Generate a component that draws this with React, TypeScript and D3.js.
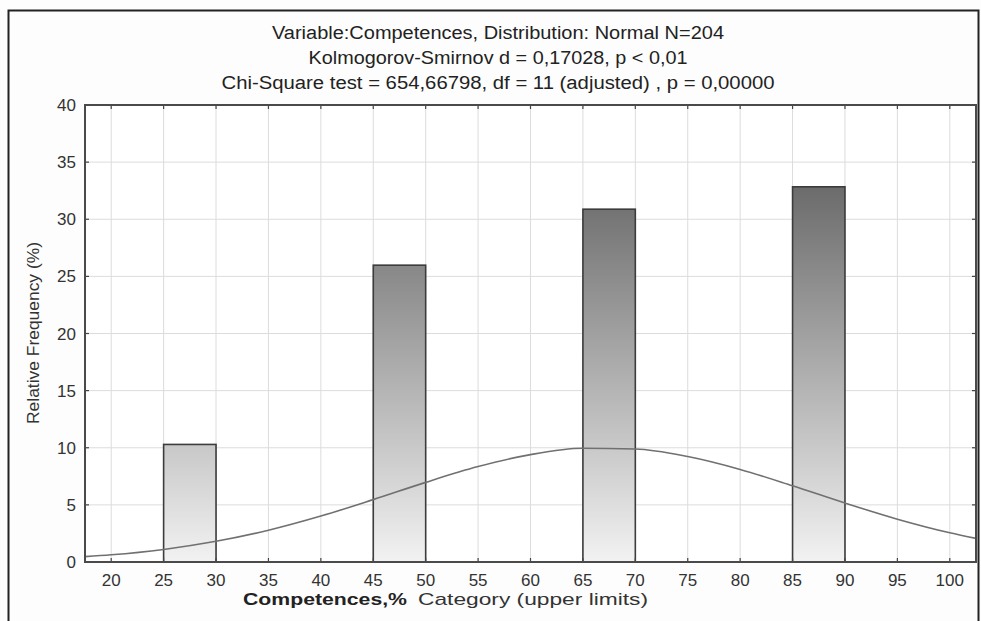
import { useEffect, useRef } from 'react';
import * as d3 from 'd3';

// histogram bins (upper limits) and relative frequencies, N = 204
const binStarts = [25, 45, 65, 85];
const binEnds = [30, 50, 70, 90];
const relFreq = [10.29, 25.98, 30.88, 32.84];

// fitted normal curve
const curveX = [17.5, 20, 25, 30, 35, 40, 45, 50, 55, 60, 65, 70, 75, 80, 85, 90, 95, 100, 102.5];
const curveY = [0.47, 0.63, 1.1, 1.81, 2.78, 4.02, 5.46, 6.97, 8.35, 9.4, 9.95, 9.89, 9.23, 8.1, 6.67, 5.16, 3.75, 2.56, 2.07];

const xTicks = [20, 25, 30, 35, 40, 45, 50, 55, 60, 65, 70, 75, 80, 85, 90, 95, 100];
const yTicks = [0, 5, 10, 15, 20, 25, 30, 35, 40];

const titleLines = [
  'Variable:Competences, Distribution: Normal N=204',
  'Kolmogorov-Smirnov d = 0,17028, p < 0,01',
  'Chi-Square test = 654,66798, df = 11 (adjusted) , p = 0,00000',
];
// width of each title line in the reference
const titleLen = [452, 379, 553];

const W = 981;
const H = 621;
const M = { left: 85, right: 976, top: 105, bottom: 562 };

export default function App() {
  const svgRef = useRef<SVGSVGElement>(null);

  useEffect(() => {
    const svg = d3.select(svgRef.current);
    svg.selectAll('*').remove();

    const x = d3.scaleLinear().domain([17.5, 102.5]).range([M.left, M.right]);
    const y = d3.scaleLinear().domain([0, 40]).range([M.bottom, M.top]);

    const defs = svg.append('defs');
    const grad = defs.append('linearGradient')
      .attr('id', 'barGrad')
      .attr('gradientUnits', 'userSpaceOnUse')
      .attr('x1', 0).attr('x2', 0)
      .attr('y1', y(40)).attr('y2', y(0));
    grad.append('stop').attr('offset', '0%').attr('stop-color', '#4e4e4e');
    grad.append('stop').attr('offset', '100%').attr('stop-color', '#f2f2f2');

    svg.append('rect')
      .attr('x', 0).attr('y', 0).attr('width', W).attr('height', H)
      .attr('fill', '#fdfdfd');

    // outer frame
    svg.append('rect')
      .attr('x', 8.5).attr('y', 10.5).attr('width', 970).attr('height', 640)
      .attr('fill', 'none')
      .attr('stroke', '#222')
      .attr('stroke-width', 2);

    svg.append('rect')
      .attr('x', M.left).attr('y', M.top)
      .attr('width', M.right - M.left).attr('height', M.bottom - M.top)
      .attr('fill', '#ffffff');

    // grid
    const grid = svg.append('g').attr('stroke', '#dcdcdc').attr('stroke-width', 1);
    xTicks.forEach(t => {
      grid.append('line')
        .attr('x1', x(t)).attr('x2', x(t))
        .attr('y1', M.top).attr('y2', M.bottom);
    });
    yTicks.forEach(t => {
      grid.append('line')
        .attr('x1', M.left).attr('x2', M.right)
        .attr('y1', y(t)).attr('y2', y(t));
    });

    // bars
    svg.append('g')
      .selectAll('rect')
      .data(relFreq)
      .join('rect')
      .attr('x', (d, i) => x(binStarts[i]))
      .attr('width', (d, i) => x(binEnds[i]) - x(binStarts[i]))
      .attr('y', d => y(d))
      .attr('height', d => y(0) - y(d))
      .attr('fill', 'url(#barGrad)')
      .attr('stroke', '#3c3c3c')
      .attr('stroke-width', 1.6);

    // normal curve
    const line = d3.line<number>()
      .x((d, i) => x(curveX[i]))
      .y(d => y(d))
      .curve(d3.curveMonotoneX);
    svg.append('path')
      .datum(curveY)
      .attr('d', line)
      .attr('fill', 'none')
      .attr('stroke', '#707070')
      .attr('stroke-width', 1.6);

    // tick marks (inside, all four sides)
    const ticks = svg.append('g').attr('stroke', '#444').attr('stroke-width', 1.2);
    xTicks.forEach(t => {
      ticks.append('line').attr('x1', x(t)).attr('x2', x(t)).attr('y1', M.bottom).attr('y2', M.bottom - 4);
      ticks.append('line').attr('x1', x(t)).attr('x2', x(t)).attr('y1', M.top).attr('y2', M.top + 4);
    });
    yTicks.forEach(t => {
      ticks.append('line').attr('x1', M.left).attr('x2', M.left + 4).attr('y1', y(t)).attr('y2', y(t));
      ticks.append('line').attr('x1', M.right).attr('x2', M.right - 4).attr('y1', y(t)).attr('y2', y(t));
    });

    svg.append('rect')
      .attr('x', M.left).attr('y', M.top)
      .attr('width', M.right - M.left).attr('height', M.bottom - M.top)
      .attr('fill', 'none')
      .attr('stroke', '#4a4a4a')
      .attr('stroke-width', 2);

    const font = '"Liberation Sans", Arial, sans-serif';

    // tick labels
    svg.append('g')
      .selectAll('text')
      .data(xTicks)
      .join('text')
      .attr('x', d => x(d))
      .attr('y', 586)
      .attr('text-anchor', 'middle')
      .attr('fill', '#333')
      .style('font-family', font)
      .style('font-size', '17px')
      .text(d => d);

    svg.append('g')
      .selectAll('text')
      .data(yTicks)
      .join('text')
      .attr('x', 76)
      .attr('y', d => y(d) + 6)
      .attr('text-anchor', 'end')
      .attr('fill', '#333')
      .style('font-family', font)
      .style('font-size', '17px')
      .text(d => d);

    // titles
    titleLines.forEach((t, i) => {
      svg.append('text')
        .attr('x', 498 - titleLen[i] / 2)
        .attr('y', 39 + i * 25)
        .attr('textLength', titleLen[i])
        .attr('lengthAdjust', 'spacingAndGlyphs')
        .attr('fill', '#222')
        .style('font-family', font)
        .style('font-size', '18px')
        .text(t);
    });

    // axis titles
    svg.append('text')
      .attr('transform', `translate(39,333) rotate(-90)`)
      .attr('text-anchor', 'middle')
      .attr('textLength', 182)
      .attr('lengthAdjust', 'spacingAndGlyphs')
      .attr('fill', '#333')
      .style('font-family', font)
      .style('font-size', '17px')
      .text('Relative Frequency (%)');

    svg.append('text')
      .attr('x', 243)
      .attr('y', 605)
      .attr('textLength', 164)
      .attr('lengthAdjust', 'spacingAndGlyphs')
      .attr('fill', '#222')
      .style('font-family', font)
      .style('font-size', '17px')
      .style('font-weight', '700')
      .text('Competences,%');

    svg.append('text')
      .attr('x', 418)
      .attr('y', 605)
      .attr('textLength', 230)
      .attr('lengthAdjust', 'spacingAndGlyphs')
      .attr('fill', '#333')
      .style('font-family', font)
      .style('font-size', '17px')
      .text('Category (upper limits)');
  }, []);

  return (
    <svg
      ref={svgRef}
      width={W}
      height={H}
      style={{ position: 'absolute', left: 0, top: 0, display: 'block' }}
    />
  );
}
